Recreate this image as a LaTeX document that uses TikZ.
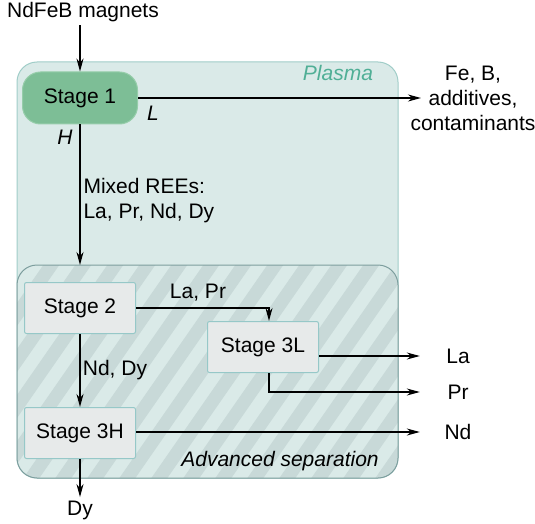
\documentclass[tikz,border=0pt]{standalone}
\usepackage{fontspec}
\setmainfont{Liberation Sans}
\definecolor{plasmafill}{RGB}{218,234,232}
\definecolor{plasmaedge}{RGB}{160,205,200}
\definecolor{plasmatext}{RGB}{80,175,150}
\definecolor{stripedark}{RGB}{200,217,216}
\definecolor{sepedge}{RGB}{125,158,158}
\definecolor{stagefill}{RGB}{231,234,234}
\definecolor{stageedge}{RGB}{150,200,200}
\definecolor{stagegreen}{RGB}{125,190,150}
\definecolor{greenedge}{RGB}{150,205,170}
\usepackage{tikz}
\usetikzlibrary{arrows.meta,positioning,calc}

\begin{document}
\begin{tikzpicture}[
  x=1pt,
  y=-1pt,
  font=\fontsize{21}{25}\selectfont,
  arr/.style={
    draw,
    line width=1.4pt,
    -{Stealth[length=13pt,width=7pt]}
    },
  stagebox/.style={
    draw=stageedge,
    line width=1pt,
    fill=stagefill,
    rounded corners=2pt,
    minimum width=111pt,
    minimum height=51pt
    },
  firststage/.style={
    draw=greenedge,
    line width=1pt,
    fill=stagegreen,
    rounded corners=18pt,
    minimum width=115pt,
    minimum height=52pt
    },
  outlbl/.style={
    minimum width=76pt,
    inner sep=0pt
    }
]
\useasboundingbox (0,0) rectangle (535,524);

\draw[fill=plasmafill, draw=plasmaedge, line width=1pt, rounded corners=20pt]
  (17,62) rectangle (398,478);
\begin{scope}
  \clip[rounded corners=20pt] (17,265) rectangle (398,478);
  \fill[plasmafill] (17,265) rectangle (398,478);
  \foreach \sx in {-170,-138,...,410}
    \fill[stripedark] (\sx,480) -- ++(16,0) -- ++(150,-216) -- ++(-16,0) -- cycle;
\end{scope}
\draw[draw=sepedge, line width=1pt, rounded corners=20pt]
  (17,265) rectangle (398,478);

\node[font=\fontsize{21}{25}\itshape, text=plasmatext] (plasma) at (338,73) {Plasma};
\node[font=\fontsize{21}{25}\itshape] (advsep) at (280,461) {Advanced separation};

\node (magnets) at (83,12) {NdFeB magnets};
\node[firststage] (s1) at (80,98) {Stage 1};
\node[stagebox] (s2) at (80,308) {Stage 2};
\node[stagebox] (s3l) at (263,347) {Stage 3L};
\node[stagebox] (s3h) at (80,433) {Stage 3H};

\node[align=center] (fe) at (473,98) {Fe, B,\\additives,\\contaminants};
\coordinate (feIn) at (421,98);
\node[outlbl] (la) at (458,356) {La};
\node[outlbl] (pr) at (458,392) {Pr};
\node[outlbl] (nd) at (458,432) {Nd};
\node (dy) at (80,510) {Dy};
\coordinate (sepTop) at (80,265);

\draw[arr] (s1.north |- magnets.south) -- (s1.north);
\draw[arr] (s1.east) -- (feIn);
\draw[arr] (s1.south) -- (sepTop);
\draw[arr] (s2.east) -| ([xshift=6pt]s3l.north);
\draw[arr] (s2.south) -- (s3h.north);
\draw[arr] (s3l.east |- la) -- (la.west);
\draw[arr] ([xshift=6pt]s3l.south) |- (pr.west);
\draw[arr] (s3h.east |- nd) -- (nd.west);
\draw[arr] (s3h.south) -- (dy.north);

\node[font=\fontsize{21}{25}\itshape] (lowlbl) at (153,113) {L};
\node[font=\fontsize{21}{25}\itshape] (highlbl) at (65,137) {H};
\node[anchor=west, align=left] (mixed) at (80,201) {Mixed REEs:\\La, Pr, Nd, Dy};
\node (lapr) at (198,293) {La, Pr};
\node (nddy) at (115,370) {Nd, Dy};

\end{tikzpicture}
\end{document}
